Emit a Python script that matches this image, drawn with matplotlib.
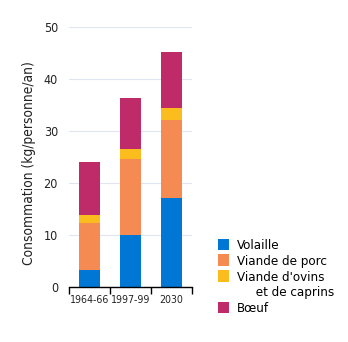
import matplotlib
matplotlib.use("Agg")
from matplotlib import pyplot as plt
from matplotlib.patches import Patch
import numpy as np

# Periods and consumption per category (kg/person/year)
periods = ["1964-66", "1997-99", "2030"]
volaille = [3.3, 10.0, 17.1]
porc = [9.1, 14.7, 15.0]
ovins = [1.5, 1.9, 2.3]
boeuf = [10.1, 9.7, 10.8]

labels = ["Volaille", "Viande de porc", "Viande d'ovins", "Bœuf"]
colors = ["#0077d4", "#f58b52", "#fbbd1e", "#be2b68"]

plt.rcParams["font.family"] = ["DejaVu Sans"]
plt.rcParams["font.stretch"] = "condensed"

fig = plt.figure(figsize=(3.48, 3.42), dpi=100)
ax = fig.add_axes([69 / 348, 55 / 342, 123 / 348, 260 / 342])

x = np.arange(len(periods))
bottom = np.zeros(len(periods))
handles = []
for series, color in zip([volaille, porc, ovins, boeuf], colors):
    h = ax.bar(x, series, width=0.49, bottom=bottom, color=color, zorder=2)
    handles.append(h)
    bottom += np.array(series)

ax.set_xlim(-0.5, 2.5)
ax.set_ylim(0, 50)
ax.set_yticks([0, 10, 20, 30, 40, 50])
ax.grid(axis="y", color="#dfe6f2", linewidth=0.8, zorder=0)
ax.tick_params(axis="y", length=0, labelsize=9, pad=8, colors="#222222")

ax.set_xticks(x)
ax.set_xticklabels(periods, fontsize=7.6, color="#222222")
ax.tick_params(axis="x", which="major", length=0, pad=6)
ax.set_xticks([-0.5, 0.5, 1.5, 2.5], minor=True)
ax.tick_params(axis="x", which="minor", length=5, direction="out", width=1)

for side in ["left", "right", "top"]:
    ax.spines[side].set_visible(False)
ax.spines["bottom"].set_linewidth(1)

ax.set_ylabel("Consommation (kg/personne/an)", fontsize=9.9, color="#222222")
ax.yaxis.set_label_coords(-0.27, 0.477)

# second line of the ovins label as an entry with an invisible handle
leg_handles = handles[:3] + [Patch(visible=False)] + handles[3:]
leg_labels = labels[:3] + ["     et de caprins"] + labels[3:]
fig.legend(leg_handles, leg_labels, loc="upper left", bbox_to_anchor=(211 / 348, 1 - 232 / 342),
           frameon=False, fontsize=9.5, handlelength=0.85, handleheight=0.95,
           handletextpad=0.6, labelspacing=0.2, borderpad=0)

plt.savefig("out.png", dpi=100)
